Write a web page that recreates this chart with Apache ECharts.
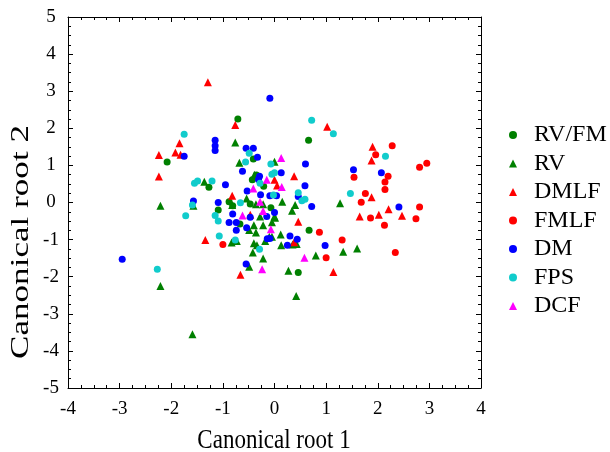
<!DOCTYPE html>
<html><head><meta charset="utf-8">
<script src="https://cdn.jsdelivr.net/npm/echarts@6/dist/echarts.min.js"></script>
<style>html,body{margin:0;padding:0;background:#fff}#c{width:610px;height:452px}</style>
</head><body><div id="c"></div>
<script>
// ---- data (x = Canonical root 1, y = Canonical root 2) ----
const seriesNames = ['RV/FM','RV','DMLF','FMLF','DM','FPS','DCF'];
const xTicks = [-4,-3,-2,-1,0,1,2,3,4];
const yTicks = [-5,-4,-3,-2,-1,0,1,2,3,4,5];
const xTitle = 'Canonical root 1';
const yTitle = 'Canonical root 2';

const rvfm = [[-2.08,1.09],[-0.71,2.25],[0.66,1.68],[-0.41,1.17],[-0.35,0.74],[-0.43,0.61],[-0.21,0.44],[-1.27,0.41],[-0.88,0.02],[-0.81,-0.09],[-0.07,-0.14],[-1.09,-0.20],[-0.67,-0.58],[0.67,-0.75],[0.46,-1.89],[-0.47,-0.04]];
const rv = [[-2.21,-0.09],[-1.57,-0.09],[-2.21,-2.25],[-1.59,-3.55],[-0.76,1.62],[0.00,1.10],[-0.68,1.07],[-1.36,0.56],[-0.39,0.75],[-0.54,0.11],[-0.82,-0.07],[-0.36,-0.05],[-0.22,-0.05],[0.15,0.02],[0.40,-0.07],[0.34,-0.22],[1.27,-0.02],[-0.28,-0.38],[0.00,-0.38],[-0.40,-0.61],[-0.22,-0.61],[-0.49,-0.74],[-0.36,-0.81],[0.12,-0.86],[-0.83,-1.08],[-0.73,-1.04],[-0.18,-1.04],[-0.40,-1.10],[-0.34,-1.15],[-0.05,-0.92],[0.13,-1.15],[0.43,-1.12],[-0.42,-1.35],[-0.22,-1.51],[0.80,-1.43],[-0.49,-1.73],[0.27,-1.84],[0.42,-2.52],[1.33,-1.33],[1.60,-1.24],[-0.05,-0.53],[0.01,-0.41],[-0.10,-0.92],[0.35,-1.13]];
const dmlf = [[-1.29,3.24],[-0.76,2.09],[1.02,2.04],[-1.84,1.60],[-2.24,1.28],[-1.92,1.35],[-1.82,1.29],[-2.24,0.70],[0.38,0.71],[0.00,0.61],[0.05,0.46],[-0.82,0.18],[-0.47,-0.33],[0.46,-0.52],[-1.34,-1.01],[0.38,-1.07],[-0.66,-1.95],[1.90,1.50],[1.88,1.13],[1.88,0.14],[2.21,-0.18],[1.65,-0.38],[2.02,-0.33],[2.47,-0.36],[1.14,-1.87]];
const fmlf = [[2.28,1.53],[1.96,1.29],[2.81,0.95],[2.95,1.06],[1.54,0.68],[2.20,0.71],[2.14,0.55],[2.14,0.35],[1.76,0.24],[1.68,0.01],[2.81,-0.12],[1.86,-0.42],[2.74,-0.44],[2.13,-0.61],[0.87,-0.80],[1.31,-1.01],[1.00,-1.49],[2.34,-1.35],[-1.00,-1.13]];
const dm = [[-0.09,2.81],[-1.75,1.25],[-1.15,1.68],[-1.15,1.53],[-1.15,1.40],[-0.55,1.46],[-0.41,1.46],[-0.33,1.22],[-0.62,0.84],[0.60,1.04],[0.13,0.80],[-0.29,0.71],[-0.31,0.62],[-0.95,0.48],[0.59,0.45],[-0.53,0.31],[0.46,0.16],[-0.27,0.21],[-0.09,0.18],[0.04,0.18],[-1.57,0.04],[-1.09,0.00],[-0.81,-0.31],[0.72,-0.11],[0.00,-0.27],[-0.47,-0.40],[-0.15,-0.38],[-0.88,-0.54],[-0.74,-0.54],[-0.54,-0.68],[-0.74,-0.75],[-0.14,-0.98],[-0.09,-0.97],[0.30,-0.90],[0.25,-1.15],[0.44,-0.99],[0.98,-1.16],[-0.55,-1.66],[-2.95,-1.53],[1.53,0.88],[2.07,0.80],[2.41,-0.12]];
const fps = [[-1.75,1.84],[-1.55,0.52],[-1.49,0.58],[-1.59,-0.07],[-1.72,-0.36],[-2.27,-1.80],[0.72,2.22],[-0.49,1.33],[-0.07,1.04],[-0.56,1.09],[-0.05,0.76],[0.00,0.80],[-0.28,0.52],[-1.21,0.58],[0.46,0.26],[0.59,0.09],[0.53,0.05],[-0.02,0.20],[-0.66,-0.01],[-1.15,-0.35],[-1.09,-0.50],[-1.07,-0.90],[-0.76,-1.01],[-0.29,-1.26],[1.14,1.85],[2.15,1.25],[1.47,0.24]];
const dcf = [[0.13,1.20],[-0.15,0.61],[0.14,0.42],[-0.41,0.38],[-0.28,0.02],[-0.62,-0.35],[-0.22,-0.23],[-0.07,-0.72],[0.58,-1.49],[-0.24,-1.80]];

const allData = [rvfm, rv, dmlf, fmlf, dm, fps, dcf];
const colors = ['#008000','#008000','#ff0000','#ff0000','#0000ff','#11cccc','#ff00ff'];
const symbols = ['circle','triangle','triangle','circle','circle','circle','triangle'];

const chart = echarts.init(document.getElementById('c'), null, {renderer:'canvas'});
const font = 'Liberation Serif';
const axisCommon = {
  interval: 1,
  axisLine: {show:true, onZero:false, lineStyle:{color:'#000', width:1}},
  axisTick: {show:true, inside:true, length:5, lineStyle:{color:'#000'}},
  minorTick: {show:true, splitNumber:4, length:3, lineStyle:{color:'#000'}},
  splitLine: {show:false}
};
function xAx(pos, labels){
  return Object.assign({}, axisCommon, {
    type:'value', position:pos, min:-4, max:4,
    axisLabel:{show:labels, color:'#000', fontFamily:font, fontSize:19, margin:12, formatter: v => xTicks.includes(v) ? String(v) : ''}
  });
}
function yAx(pos, labels){
  return Object.assign({}, axisCommon, {
    type:'value', position:pos, min:-5, max:5,
    axisLabel:{show:labels, color:'#000', fontFamily:font, fontSize:19, margin:17, align:'center', formatter: v => yTicks.includes(v) ? String(v) : ''}
  });
}
chart.setOption({
  animation:false,
  grid:{left:68, right:129, top:17, bottom:64, show:false},
  xAxis:[xAx('bottom', true), xAx('top', false)],
  yAxis:[yAx('left', true), yAx('right', false)],
  legend:{
    orient:'vertical', left:504, top:118, itemWidth:8, itemHeight:8, itemGap:4.5,
    textStyle:{color:'#000', fontFamily:font, fontSize:24, lineHeight:24, padding:[0,0,0,12]},
    data: seriesNames.map((n,i)=>({name:n, icon:symbols[i]}))
  },
  graphic:[
    {type:'text', x:274, y:441, scaleY:1.2, silent:true,
     style:{text:xTitle, font:'23px "Liberation Serif"', fill:'#000', align:'center', verticalAlign:'middle', textAlign:'center', textVerticalAlign:'middle'}},
    {type:'text', x:21, y:242, rotation:Math.PI/2, scaleX:1.35, silent:true,
     style:{text:yTitle, font:'26px "Liberation Serif"', fill:'#000', align:'center', verticalAlign:'middle', textAlign:'center', textVerticalAlign:'middle'}}
  ],
  series: seriesNames.map((n,i)=>({
    name:n, type:'scatter', xAxisIndex:0, yAxisIndex:0,
    symbol:symbols[i], symbolSize: symbols[i]==='triangle' ? 8 : 7,
    itemStyle:{color:colors[i], opacity:1},
    data: allData[i]
  }))
});
</script></body></html>
